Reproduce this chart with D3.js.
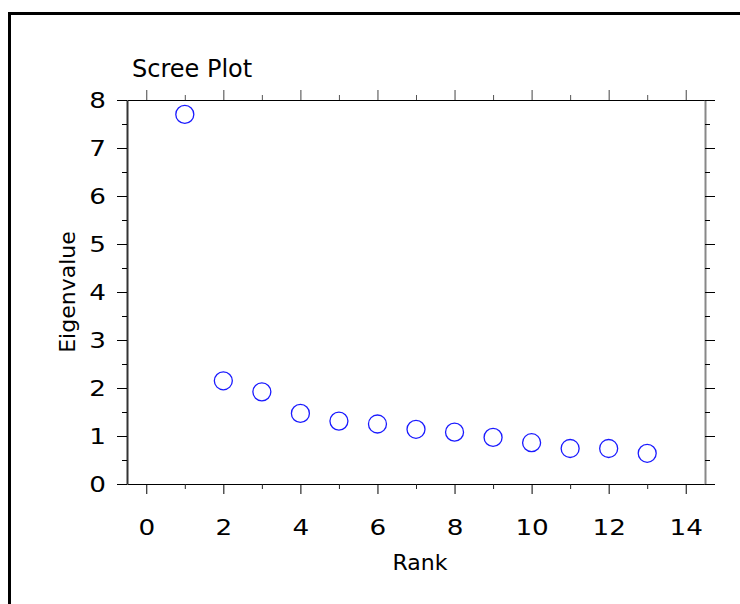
<!DOCTYPE html>
<html>
<head>
<meta charset="utf-8">
<script src="https://cdn.jsdelivr.net/npm/d3@7"></script>
<style>
  html, body { margin: 0; padding: 0; background: #fff; }
  svg { display: block; }
  text { font-family: "DejaVu Sans", Verdana, sans-serif; fill: #000; }
</style>
</head>
<body>
<svg id="chart" width="740" height="604"></svg>
<script>
// ---- data ----
const ranks = [1, 2, 3, 4, 5, 6, 7, 8, 9, 10, 11, 12, 13];
const eigenvalues = [7.70, 2.15, 1.92, 1.47, 1.31, 1.25, 1.14, 1.08, 0.97, 0.86, 0.74, 0.74, 0.64];
const xMajorTicks = [0, 2, 4, 6, 8, 10, 12, 14];
const xMinorTicks = [1, 3, 5, 7, 9, 11, 13];
const yMajorTicks = [0, 1, 2, 3, 4, 5, 6, 7, 8];
const yMinorTicks = [0.5, 1.5, 2.5, 3.5, 4.5, 5.5, 6.5, 7.5];
const titleText = "Scree Plot";
const xLabel = "Rank";
const yLabel = "Eigenvalue";

// ---- layout ----
const svg = d3.select("#chart");
const L = 127, R = 705, T = 100, B = 484;
const x = d3.scaleLinear().domain([-0.5, 14.5]).range([L, R]);
const y = d3.scaleLinear().domain([0, 8]).range([B, T]);
const tickStretch = 1.25;
const tickFont = 21;

// outer frame (extends past the window)
svg.append("rect")
  .attr("x", 9.5).attr("y", 13.5)
  .attr("width", 800).attr("height", 700)
  .attr("fill", "none").attr("stroke", "#000").attr("stroke-width", 3);

// ---- axes ----
function styleAxis(g, color, width) {
  g.select(".domain").attr("stroke", color).attr("stroke-width", width);
  g.selectAll(".tick line").attr("stroke", color).attr("stroke-width", 1);
}

// bottom major
const gB = svg.append("g").attr("transform", `translate(0,${B})`)
  .call(d3.axisBottom(x).tickValues(xMajorTicks).tickSizeInner(10).tickSizeOuter(0).tickPadding(26).tickFormat(d3.format("d")));
styleAxis(gB, "#000", 1);
gB.selectAll(".tick text").attr("font-size", tickFont).attr("font-family", "DejaVu Sans")
  .attr("transform", `scale(${tickStretch},1)`);
svg.append("g").attr("transform", `translate(0,${B})`)
  .call(d3.axisBottom(x).tickValues(xMinorTicks).tickSize(5).tickFormat(""))
  .call(g => { g.select(".domain").remove(); g.selectAll(".tick line").attr("stroke", "#222"); });

// top
const gT = svg.append("g").attr("transform", `translate(0,${T})`)
  .call(d3.axisTop(x).tickValues(xMajorTicks).tickSizeInner(10).tickSizeOuter(0).tickFormat(""));
styleAxis(gT, "#000", 1);
gT.selectAll(".tick line").attr("stroke", "#444");
svg.append("g").attr("transform", `translate(0,${T})`)
  .call(d3.axisTop(x).tickValues(xMinorTicks).tickSize(5).tickFormat(""))
  .call(g => { g.select(".domain").remove(); g.selectAll(".tick line").attr("stroke", "#555"); });

// left
const gL = svg.append("g").attr("transform", `translate(${L},0)`)
  .call(d3.axisLeft(y).tickValues(yMajorTicks).tickSizeInner(10).tickSizeOuter(0).tickPadding(11).tickFormat(d3.format("d")));
styleAxis(gL, "#333", 2);
gL.selectAll(".tick line").attr("stroke", "#000");
gL.selectAll(".tick text").attr("font-size", tickFont).attr("font-family", "DejaVu Sans").attr("dy", "0.38em")
  .attr("x", -21 / tickStretch)
  .attr("transform", `scale(${tickStretch},1)`);
svg.append("g").attr("transform", `translate(${L},0)`)
  .call(d3.axisLeft(y).tickValues(yMinorTicks).tickSize(5).tickFormat(""))
  .call(g => { g.select(".domain").remove(); g.selectAll(".tick line").attr("stroke", "#000"); });

// right
const gR = svg.append("g").attr("transform", `translate(${R},0)`)
  .call(d3.axisRight(y).tickValues(yMajorTicks).tickSizeInner(10).tickSizeOuter(0).tickFormat(""));
styleAxis(gR, "#888", 2);
gR.selectAll(".tick line").attr("stroke", "#000");
svg.append("g").attr("transform", `translate(${R},0)`)
  .call(d3.axisRight(y).tickValues(yMinorTicks).tickSize(5).tickFormat(""))
  .call(g => { g.select(".domain").remove(); g.selectAll(".tick line").attr("stroke", "#000"); });

// ---- points ----
svg.append("g").selectAll("circle")
  .data(ranks.map((r, i) => ({ r, v: eigenvalues[i] })))
  .join("circle")
  .attr("cx", d => x(d.r))
  .attr("cy", d => y(d.v))
  .attr("r", 9)
  .attr("fill", "none")
  .attr("stroke", "#1a1aff")
  .attr("stroke-width", 1.3);

// ---- labels ----
svg.append("text").attr("x", 132).attr("y", 77)
  .attr("font-size", 24).text(titleText);

svg.append("text").attr("x", (L + R) / 2 + 4).attr("y", 570)
  .attr("text-anchor", "middle").attr("font-size", 22).text(xLabel);

svg.append("text")
  .attr("transform", `translate(75,${(T + B) / 2}) rotate(-90)`)
  .attr("text-anchor", "middle").attr("font-size", 22).text(yLabel);
</script>
</body>
</html>
